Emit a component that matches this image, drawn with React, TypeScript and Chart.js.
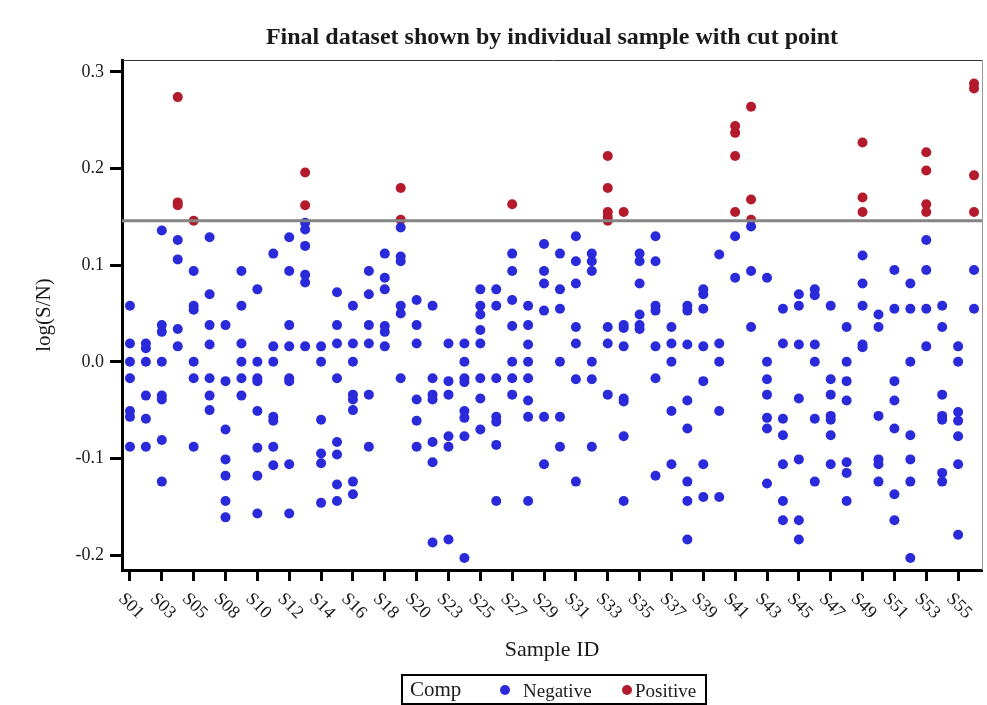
import React, { useEffect, useRef } from 'react';
import { Chart, registerables } from 'chart.js';

Chart.register(...registerables);

// ---------- data ----------
const samples = [
  'S01', 'S02', 'S03', 'S04', 'S05', 'S07', 'S08', 'S09', 'S10', 'S11',
  'S12', 'S13', 'S14', 'S15', 'S16', 'S17', 'S18', 'S19', 'S20', 'S21',
  'S23', 'S24', 'S25', 'S26', 'S27', 'S28', 'S29', 'S30', 'S31', 'S32',
  'S33', 'S34', 'S35', 'S36', 'S37', 'S38', 'S39', 'S40', 'S41', 'S42',
  'S43', 'S44', 'S45', 'S46', 'S47', 'S48', 'S49', 'S50', 'S51', 'S52',
  'S53', 'S54', 'S55', 'S56',
];

const negativeValues: number[][] = [
  [0.058, 0.019, 0.0, -0.017, -0.051, -0.057, -0.088],
  [0.019, 0.014, 0.0, -0.035, -0.059, -0.088],
  [0.136, 0.038, 0.031, 0.0, -0.035, -0.039, -0.081, -0.124],
  [0.126, 0.106, 0.034, 0.016],
  [0.094, 0.058, 0.054, 0.0, -0.017, -0.088],
  [0.129, 0.070, 0.038, 0.018, -0.017, -0.035, -0.050],
  [0.038, -0.020, -0.070, -0.101, -0.118, -0.144, -0.161],
  [0.094, 0.058, 0.019, 0.0, -0.017, -0.035],
  [0.075, 0.0, -0.017, -0.020, -0.051, -0.089, -0.118, -0.157],
  [0.112, 0.016, 0.0, -0.057, -0.061, -0.088, -0.107],
  [0.129, 0.094, 0.038, 0.016, -0.017, -0.020, -0.106, -0.157],
  [0.144, 0.137, 0.120, 0.090, 0.082, 0.016],
  [0.016, 0.0, -0.060, -0.095, -0.105, -0.146],
  [0.072, 0.038, 0.019, -0.017, -0.083, -0.096, -0.127, -0.144],
  [0.058, 0.019, 0.0, -0.034, -0.039, -0.050, -0.124, -0.137],
  [0.094, 0.070, 0.038, 0.019, -0.034, -0.088],
  [0.112, 0.087, 0.075, 0.037, 0.031, 0.016],
  [0.139, 0.109, 0.104, 0.058, 0.050, -0.017],
  [0.064, 0.038, 0.019, -0.039, -0.061, -0.088],
  [0.058, -0.017, -0.034, -0.039, -0.083, -0.104, -0.187],
  [0.019, -0.020, -0.034, -0.077, -0.088, -0.184],
  [0.019, 0.0, -0.017, -0.021, -0.051, -0.058, -0.077, -0.203],
  [0.075, 0.058, 0.049, 0.033, 0.019, -0.017, -0.038, -0.070],
  [0.075, 0.058, -0.017, -0.057, -0.062, -0.086, -0.144],
  [0.112, 0.094, 0.064, 0.037, 0.0, -0.017, -0.034],
  [0.058, 0.038, 0.018, 0.0, -0.017, -0.040, -0.057, -0.144],
  [0.122, 0.094, 0.081, 0.053, -0.057, -0.106],
  [0.112, 0.075, 0.055, 0.0, -0.057, -0.088],
  [0.130, 0.104, 0.081, 0.036, 0.019, -0.018, -0.124],
  [0.112, 0.104, 0.094, 0.0, -0.018, -0.088],
  [0.036, 0.019, -0.034],
  [0.038, 0.035, 0.016, -0.038, -0.041, -0.077, -0.144],
  [0.112, 0.104, 0.081, 0.049, 0.038, 0.034],
  [0.130, 0.104, 0.058, 0.053, 0.016, -0.017, -0.118],
  [0.036, 0.019, 0.0, -0.051, -0.106],
  [0.058, 0.053, 0.018, -0.040, -0.069, -0.124, -0.144, -0.184],
  [0.075, 0.070, 0.055, 0.016, -0.020, -0.106, -0.140],
  [0.111, 0.019, 0.0, -0.051, -0.140],
  [0.130, 0.087],
  [0.140, 0.094, 0.036],
  [0.087, 0.0, -0.018, -0.034, -0.058, -0.069, -0.126],
  [0.055, 0.019, -0.059, -0.076, -0.106, -0.144, -0.164],
  [0.070, 0.058, 0.018, -0.038, -0.101, -0.164, -0.184],
  [0.075, 0.069, 0.018, 0.0, -0.059, -0.124],
  [0.058, -0.018, -0.034, -0.056, -0.060, -0.076, -0.106],
  [0.036, 0.0, -0.020, -0.040, -0.104, -0.115, -0.144],
  [0.110, 0.081, 0.058, 0.018, 0.015],
  [0.049, 0.036, -0.056, -0.101, -0.106, -0.124],
  [0.095, 0.055, -0.020, -0.040, -0.069, -0.137, -0.164],
  [0.081, 0.055, 0.0, -0.076, -0.101, -0.124, -0.203],
  [0.126, 0.095, 0.055, 0.016],
  [0.058, 0.036, -0.034, -0.056, -0.060, -0.115, -0.124],
  [0.016, 0.0, -0.052, -0.061, -0.077, -0.106, -0.179],
  [0.095, 0.055],
];

const positiveValues: number[][] = [
  [], [], [], [0.274, 0.165, 0.162], [0.146], [], [], [], [], [],
  [], [0.196, 0.162], [], [], [], [], [], [0.180, 0.147], [], [],
  [], [], [], [], [0.163], [], [], [], [], [],
  [0.213, 0.180, 0.155, 0.150, 0.146], [0.155], [], [], [], [], [], [], [0.244, 0.237, 0.213, 0.155], [0.264, 0.168, 0.147],
  [], [], [], [], [], [], [0.227, 0.170, 0.155], [], [], [],
  [0.217, 0.198, 0.163, 0.155], [], [], [0.288, 0.283, 0.193, 0.155],
];

const cutPoint = 0.146;
const yTickValues = [-0.2, -0.1, 0.0, 0.1, 0.2, 0.3];
const yMin = -0.2155;
const yMax = 0.3124;

const titleText = 'Final dataset shown by individual sample with cut point';
const xTitle = 'Sample ID';
const yTitle = 'log(S/N)';
const legendTitle = 'Comp';
const seriesNames = ['Negative', 'Positive'];

// ---------- styles ----------
const BLUE = '#2a2adb';
const RED = '#b31b2c';
const SERIF = '"Liberation Serif", "Times New Roman", serif';
const TEXT = '#1a1a1a';

function toPoints(values: number[][]) {
  const pts: { x: string; y: number }[] = [];
  values.forEach((arr, i) => arr.forEach((v) => pts.push({ x: samples[i], y: v })));
  return pts;
}

const decorPlugin = {
  id: 'decor',
  afterDatasetsDraw(chart: any) {
    const { ctx, chartArea, scales } = chart;
    const y = scales.y.getPixelForValue(cutPoint);
    ctx.save();
    ctx.strokeStyle = '#858585';
    ctx.lineWidth = 3;
    ctx.beginPath();
    ctx.moveTo(chartArea.left, y);
    ctx.lineTo(chartArea.right, y);
    ctx.stroke();
    ctx.restore();
  },
  afterDraw(chart: any) {
    const { ctx, chartArea, scales } = chart;
    ctx.save();
    // frame top/right
    ctx.strokeStyle = '#333';
    ctx.lineWidth = 1;
    ctx.beginPath();
    ctx.moveTo(chartArea.left, chartArea.top + 0.5);
    ctx.lineTo(chartArea.right + 1, chartArea.top + 0.5);
    ctx.stroke();
    ctx.strokeStyle = '#999';
    ctx.beginPath();
    ctx.moveTo(chartArea.right + 0.5, chartArea.top);
    ctx.lineTo(chartArea.right + 0.5, chartArea.bottom);
    ctx.stroke();

    // title
    ctx.fillStyle = TEXT;
    ctx.font = `bold 24px ${SERIF}`;
    ctx.textAlign = 'center';
    ctx.textBaseline = 'middle';
    ctx.fillText(titleText, (chartArea.left + chartArea.right) / 2, 38);

    // rotated x tick labels
    const xs = scales.x;
    ctx.font = `18px ${SERIF}`;
    samples.forEach((s, i) => {
      if (i % 2 !== 0) return;
      const px = xs.getPixelForValue(i);
      ctx.save();
      ctx.translate(px + 1, 606);
      ctx.rotate(Math.PI / 4);
      ctx.textAlign = 'center';
      ctx.textBaseline = 'middle';
      ctx.fillText(s, 0, 0);
      ctx.restore();
    });
    ctx.restore();
  },
};

export default function App() {
  const ref = useRef<HTMLCanvasElement>(null);

  useEffect(() => {
    const chart = new Chart(ref.current as HTMLCanvasElement, {
      type: 'scatter',
      data: {
        datasets: [
          {
            label: seriesNames[0],
            data: toPoints(negativeValues),
            backgroundColor: BLUE,
            borderColor: BLUE,
            borderWidth: 0,
            pointRadius: 5,
          },
          {
            label: seriesNames[1],
            data: toPoints(positiveValues),
            backgroundColor: RED,
            borderColor: RED,
            borderWidth: 0,
            pointRadius: 5,
          },
        ],
      } as any,
      options: {
        animation: false,
        responsive: false,
        layout: { padding: { top: 60, right: 2, left: 0, bottom: 40 } },
        plugins: {
          legend: { display: false },
          tooltip: { enabled: false },
          title: { display: false },
        },
        scales: {
          x: {
            type: 'category',
            labels: samples,
            offset: true,
            grid: {
              drawOnChartArea: false,
              drawTicks: true,
              tickLength: 11,
              tickWidth: 3,
              tickColor: (c: any) => (c.index % 2 === 0 ? '#000' : 'rgba(0,0,0,0)'),
            },
            border: { display: true, color: '#000', width: 3 },
            ticks: { display: false, autoSkip: false },
            title: {
              display: true,
              text: xTitle,
              color: TEXT,
              font: { family: SERIF, size: 22 },
              padding: { top: 0, bottom: 2 },
            },
            afterFit: (s: any) => {
              s.height = 95;
            },
          },
          y: {
            type: 'linear',
            min: yMin,
            max: yMax,
            afterBuildTicks: (s: any) => {
              s.ticks = yTickValues.map((v) => ({ value: v }));
            },
            grid: {
              drawOnChartArea: false,
              drawTicks: true,
              tickLength: 12,
              tickWidth: 3,
              tickColor: '#000',
            },
            border: { display: true, color: '#000', width: 3 },
            ticks: {
              color: TEXT,
              font: { family: SERIF, size: 18 },
              padding: 6,
              callback: (v: any) => Number(v).toFixed(1),
            },
            title: {
              display: true,
              text: yTitle,
              color: TEXT,
              font: { family: SERIF, size: 21 },
              padding: { top: 32, bottom: 0 },
            },
            afterFit: (s: any) => {
              s.width = 122;
            },
          },
        },
      } as any,
      plugins: [decorPlugin],
    });
    return () => chart.destroy();
  }, []);

  return (
    <div
      style={{
        position: 'fixed',
        left: 0,
        top: 0,
        width: 987,
        height: 705,
        background: '#fff',
        overflow: 'hidden',
      }}
    >
      <canvas ref={ref} width={987} height={705} style={{ display: 'block' }} />
      <div
        style={{
          position: 'absolute',
          left: 401,
          top: 674,
          width: 306,
          height: 31,
          boxSizing: 'border-box',
          border: '2px solid #000',
          fontFamily: SERIF,
          color: TEXT,
        }}
      >
        <span style={{ position: 'absolute', left: 7, top: 0, fontSize: 21, lineHeight: '27px' }}>
          {legendTitle}
        </span>
        <span
          style={{
            position: 'absolute',
            left: 97,
            top: 9,
            width: 10,
            height: 10,
            borderRadius: '50%',
            background: BLUE,
          }}
        />
        <span style={{ position: 'absolute', left: 120, top: 1, fontSize: 19, lineHeight: '27px' }}>
          {seriesNames[0]}
        </span>
        <span
          style={{
            position: 'absolute',
            left: 219,
            top: 9,
            width: 10,
            height: 10,
            borderRadius: '50%',
            background: RED,
          }}
        />
        <span style={{ position: 'absolute', left: 232, top: 1, fontSize: 19, lineHeight: '27px' }}>
          {seriesNames[1]}
        </span>
      </div>
    </div>
  );
}
